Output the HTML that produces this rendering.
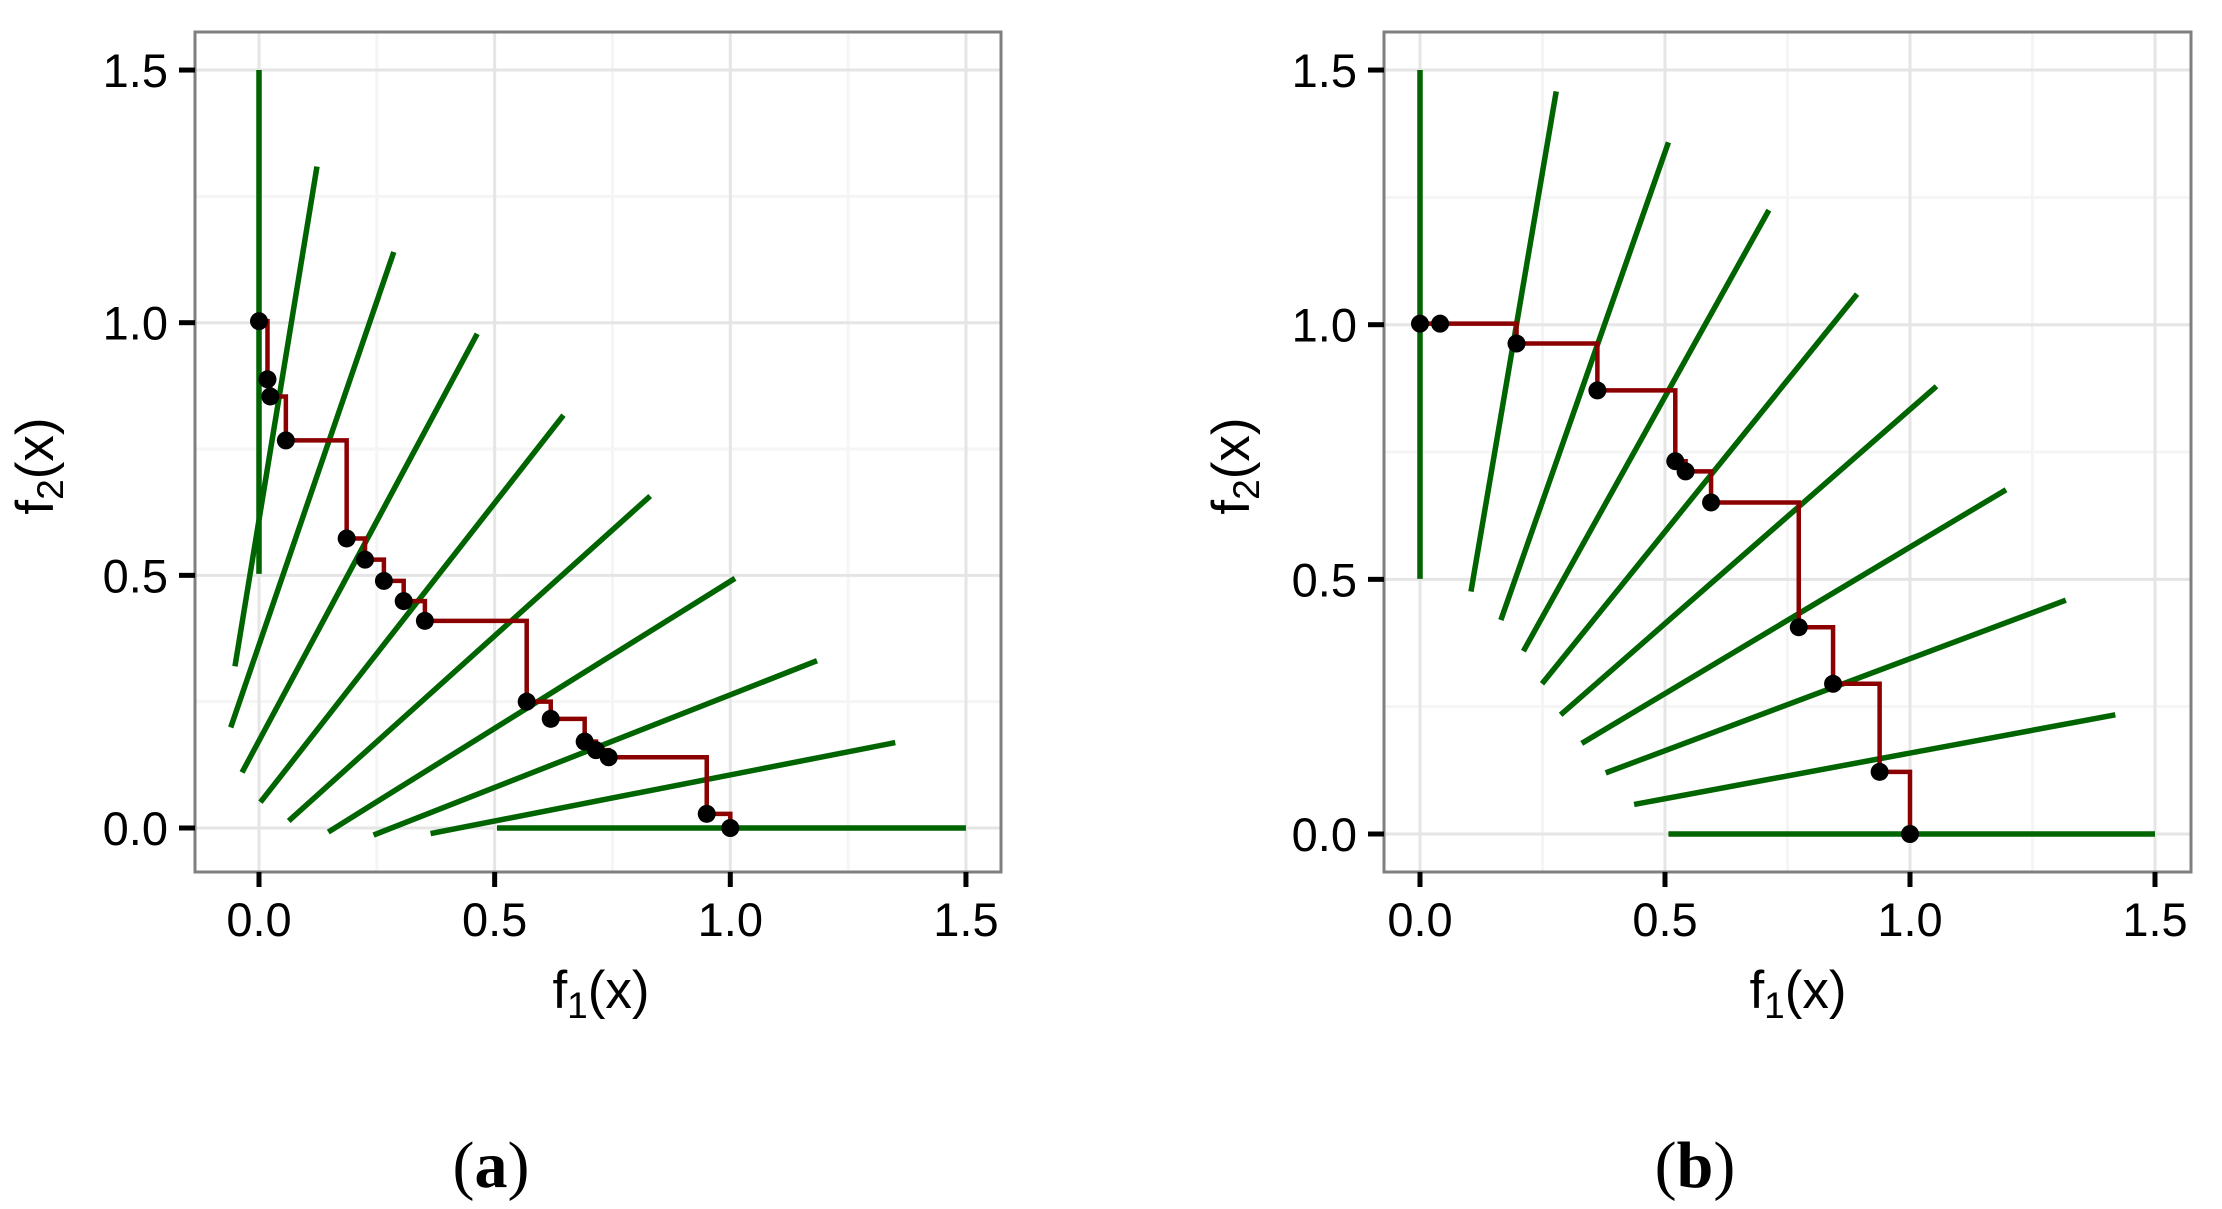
<!DOCTYPE html>
<html><head><meta charset="utf-8">
<style>
html,body{margin:0;padding:0;background:#fff;}
svg{display:block;}
text{font-family:"Liberation Sans",sans-serif;fill:#000;}
</style></head>
<body>
<svg id="s" width="2222" height="1209" viewBox="0 0 2222 1209" xmlns="http://www.w3.org/2000/svg">
<rect width="2222" height="1209" fill="#fff"/>
</svg>
<script>
const NS="http://www.w3.org/2000/svg";
const svg=document.getElementById('s');
function el(t,a,txt){const e=document.createElementNS(NS,t);for(const k in a)e.setAttribute(k,a[k]);if(txt!==undefined)e.textContent=txt;svg.appendChild(e);return e;}
function panel(P){
  const X=v=>P.x0+P.sx*v, Y=v=>P.y0-P.sy*v;
  el('rect',{x:P.L,y:P.T,width:P.R-P.L,height:P.B-P.T,fill:'#fff'});
  [0.25,0.75,1.25].forEach(v=>{
    el('line',{x1:X(v),x2:X(v),y1:P.T,y2:P.B,stroke:'#f5f5f5','stroke-width':3});
    el('line',{x1:P.L,x2:P.R,y1:Y(v),y2:Y(v),stroke:'#f5f5f5','stroke-width':3});
  });
  [0,0.5,1,1.5].forEach(v=>{
    el('line',{x1:X(v),x2:X(v),y1:P.T,y2:P.B,stroke:'#e5e5e5','stroke-width':3});
    el('line',{x1:P.L,x2:P.R,y1:Y(v),y2:Y(v),stroke:'#e5e5e5','stroke-width':3});
  });
  P.g.forEach(s=>el('line',{x1:X(s[0]),y1:Y(s[1]),x2:X(s[2]),y2:Y(s[3]),stroke:'#006400','stroke-width':5.5}));
  const p=P.pts;let d='M'+X(p[0][0])+' '+Y(p[0][1]);
  for(let i=1;i<p.length;i++){d+=' L'+X(p[i][0])+' '+Y(p[i-1][1])+' L'+X(p[i][0])+' '+Y(p[i][1]);}
  el('path',{d:d,fill:'none',stroke:'#8b0000','stroke-width':4.5});
  p.forEach(q=>el('circle',{cx:X(q[0]),cy:Y(q[1]),r:9,fill:'#000'}));
  el('rect',{x:P.L,y:P.T,width:P.R-P.L,height:P.B-P.T,fill:'none',stroke:'#7f7f7f','stroke-width':3});
  ['0.0','0.5','1.0','1.5'].forEach((t,i)=>{
    const v=i*0.5;
    el('line',{x1:X(v),x2:X(v),y1:P.B,y2:P.B+15,stroke:'#000','stroke-width':5});
    el('text',{x:X(v),y:P.B+64,'text-anchor':'middle','font-size':47},t);
    el('line',{x1:P.L-16,x2:P.L,y1:Y(v),y2:Y(v),stroke:'#000','stroke-width':5});
    el('text',{x:P.L-27,y:Y(v)+17,'text-anchor':'end','font-size':47},t);
  });
  const xt=el('text',{x:P.xt,y:1008,'text-anchor':'middle','font-size':53});
  xt.innerHTML='f<tspan font-size="37" dy="10">1</tspan><tspan dy="-10">(x)</tspan>';
  const yt=el('text',{x:0,y:0,'text-anchor':'middle','font-size':53,transform:'translate('+(P.yt+18)+',466) rotate(-90)'});
  yt.innerHTML='f<tspan font-size="37" dy="10">2</tspan><tspan dy="-10">(x)</tspan>';
  const lb=el('text',{x:P.lab,y:1187,'text-anchor':'middle','font-size':66,style:'font-family:"Liberation Serif",serif'});
  lb.innerHTML='(<tspan font-weight="bold">'+P.name+'</tspan>)';
}
panel({L:195,R:1001,T:32,B:872,x0:259,sx:471.3,y0:828,sy:505.3,xt:601,yt:35,lab:491,name:'a',
 pts:[[0,1.003],[0.018,0.888],[0.024,0.854],[0.057,0.767],[0.186,0.573],[0.225,0.531],[0.265,0.489],[0.307,0.449],[0.352,0.410],[0.568,0.250],[0.619,0.216],[0.691,0.171],[0.715,0.154],[0.742,0.140],[0.950,0.028],[1.0,0.0]],
 g:[[0,1.5,0,0.503],[-0.051,0.320,0.123,1.309],[-0.060,0.199,0.286,1.140],[-0.036,0.110,0.463,0.978],[0.003,0.051,0.646,0.817],[0.063,0.014,0.830,0.657],[0.147,-0.008,1.010,0.494],[0.243,-0.014,1.184,0.331],[0.364,-0.011,1.350,0.169],[0.505,0,1.5,0]]});
panel({L:1384,R:2191,T:32,B:872,x0:1420,sx:490,y0:834,sy:509.3,xt:1798,yt:1231,lab:1695,name:'b',
 pts:[[0,1.002],[0.041,1.002],[0.197,0.963],[0.362,0.871],[0.521,0.732],[0.542,0.712],[0.594,0.651],[0.773,0.406],[0.843,0.295],[0.938,0.122],[1.0,0]],
 g:[[0,1.5,0,0.501],[0.104,0.476,0.278,1.458],[0.165,0.420,0.507,1.358],[0.211,0.359,0.712,1.225],[0.249,0.295,0.892,1.060],[0.287,0.234,1.054,0.879],[0.330,0.178,1.196,0.676],[0.379,0.120,1.318,0.459],[0.437,0.058,1.419,0.234],[0.507,0,1.5,0]]});
</script>
</body></html>
